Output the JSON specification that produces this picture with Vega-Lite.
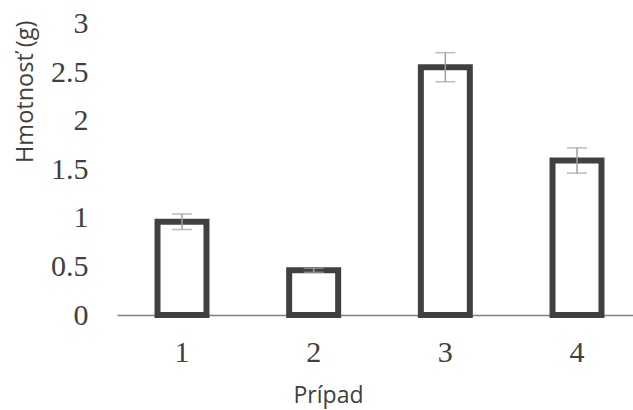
{
  "$schema": "https://vega.github.io/schema/vega-lite/v6.json",
  "width": 516,
  "height": 291.5,
  "autosize": {"type": "none"},
  "padding": {"left": 117, "top": 23.5, "right": 0, "bottom": 95},
  "background": "white",
  "config": {"view": {"stroke": null}},
  "data": {
    "values": [
      {"case": "1", "value": 0.96, "err": 0.08},
      {"case": "2", "value": 0.46, "err": 0.02},
      {"case": "3", "value": 2.55, "err": 0.15},
      {"case": "4", "value": 1.59, "err": 0.13}
    ]
  },
  "encoding": {
    "x": {
      "field": "case",
      "type": "nominal",
      "scale": {"paddingInner": 0.628, "paddingOuter": 0.2735, "align": 0.5625},
      "axis": {
        "title": "Prípad",
        "labelAngle": 0,
        "labelFont": "Liberation Serif",
        "labelFontSize": 30,
        "labelColor": "#404040",
        "labelPadding": 22,
        "ticks": false,
        "domainColor": "#808080",
        "domainWidth": 1.5,
        "titleFont": "Open Sans",
        "titleFontSize": 23,
        "titleFontWeight": "normal",
        "titleColor": "#404040",
        "titleX": 211,
        "titleY": 87,
        "titleBaseline": "alphabetic",
        "titleAlign": "center"
      }
    }
  },
  "layer": [
    {
      "mark": {"type": "bar", "fill": "white", "stroke": "#404040", "strokeWidth": 6},
      "encoding": {
        "y": {
          "field": "value",
          "type": "quantitative",
          "title": "Hmotnosť (g)",
          "scale": {"domain": [0, 3]},
          "axis": {
            "values": [0, 0.5, 1, 1.5, 2, 2.5, 3],
            "format": "~g",
            "grid": false,
            "domain": false,
            "ticks": false,
            "labelFont": "Liberation Serif",
            "labelFontSize": 30,
            "labelColor": "#404040",
            "labelPadding": 29,
            "labelAlign": "right",
            "titleFont": "Open Sans",
            "titleFontSize": 23.5,
            "titleFontWeight": "normal",
            "titleColor": "#404040",
            "titleX": -92,
            "titleY": -3.5,
            "titleAlign": "right",
            "titleBaseline": "middle",
            "titleAngle": 270
          }
        }
      }
    },
    {
      "mark": {
        "type": "errorbar",
        "color": "#a0a0a0",
        "rule": {"strokeWidth": 1.5},
        "ticks": {"size": 20, "thickness": 1.5}
      },
      "encoding": {
        "y": {"field": "value", "type": "quantitative", "title": "Hmotnosť (g)"},
        "yError": {"field": "err"}
      }
    }
  ]
}
